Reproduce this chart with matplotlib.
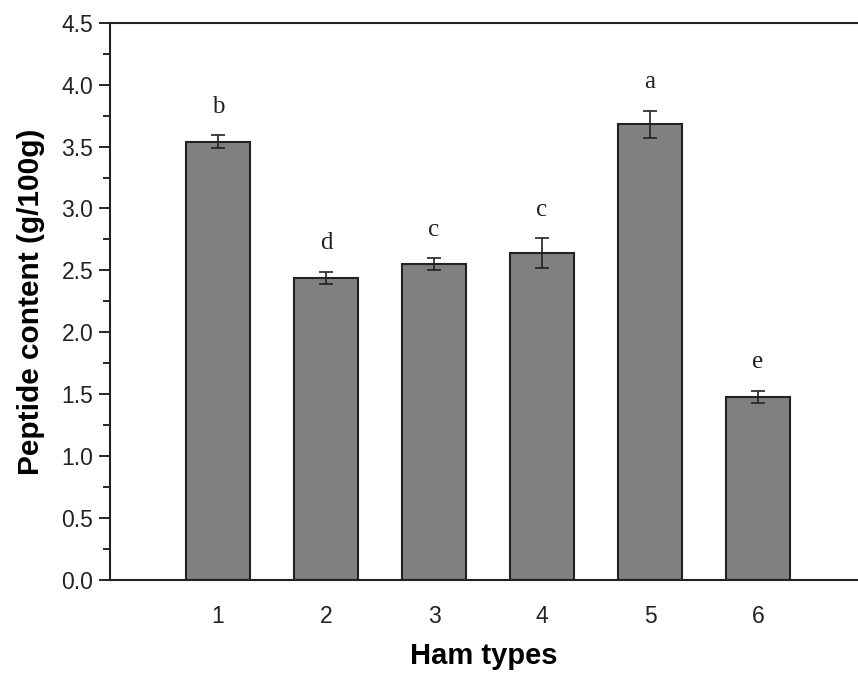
import matplotlib
matplotlib.use("Agg")
import matplotlib.pyplot as plt
from matplotlib.ticker import MultipleLocator

ham_types = [1, 2, 3, 4, 5, 6]
peptide = [3.54, 2.44, 2.55, 2.64, 3.68, 1.48]
errors = [0.05, 0.05, 0.05, 0.12, 0.11, 0.05]
letters = ["b", "d", "c", "c", "a", "e"]

fig = plt.figure(figsize=(8.58, 6.73), dpi=100)
ax = fig.add_axes([110 / 858, 1 - 580 / 673, 748 / 858, (580 - 22.7) / 673])

ax.bar(ham_types, peptide, width=0.6, color="#808080", edgecolor="#222222",
       linewidth=1.5, yerr=errors, capsize=5,
       error_kw=dict(ecolor="#222222", elinewidth=1.2, capthick=1.2))

for x, v, e, t in zip(ham_types, peptide, errors, letters):
    ax.text(x, v + e + 0.23, t, ha="center", va="center",
            fontsize=18, family="Liberation Serif", color="#222222")

ax.set_xlim(0, 6.925)
ax.set_ylim(0, 4.5)
ax.yaxis.set_major_locator(MultipleLocator(0.5))
ax.yaxis.set_minor_locator(MultipleLocator(0.25))
ax.set_xticks(ham_types)
ax.tick_params(axis="x", length=0, pad=18, labelsize=16.5)
ax.tick_params(axis="y", which="major", direction="out", length=8, width=1.2, labelsize=16.5, pad=4)
ax.tick_params(axis="y", which="minor", direction="out", length=5, width=1.2)
for lab in ax.get_xticklabels() + ax.get_yticklabels():
    lab.set_family("Liberation Sans")
    lab.set_color("#222222")

ax.spines["right"].set_visible(False)
for s in ["left", "top", "bottom"]:
    ax.spines[s].set_linewidth(1.5)
    ax.spines[s].set_color("#222222")

ax.set_xlabel("Ham types", fontsize=21, fontweight="bold", family="Liberation Sans", labelpad=10)
ax.set_ylabel("Peptide content (g/100g)", fontsize=21.5, fontweight="bold", family="Liberation Sans", labelpad=12)

fig.savefig("out.png", dpi=100)
